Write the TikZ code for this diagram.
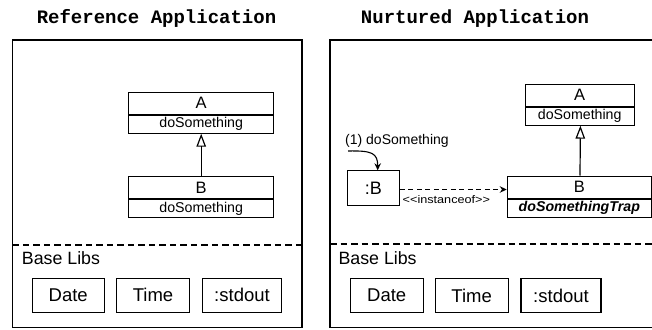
\documentclass[tikz,border=0pt]{standalone}
\usepackage{fontspec}
\setmainfont{Liberation Sans}
\newfontfamily\titlefont{Liberation Mono}
\usetikzlibrary{arrows.meta}
\begin{document}
\begin{tikzpicture}[x=1pt,y=-1pt,
  frame/.style={line width=1.3pt},
  sep/.style={line width=1.1pt, dash pattern=on 6.5pt off 4pt},
  cls/.style={draw, line width=1.1pt, inner sep=0pt, minimum height=22pt, anchor=north, font=\fontsize{16.5}{16.5}\selectfont},
  op/.style={draw, line width=1.1pt, inner sep=0pt, minimum height=18pt, anchor=north, font=\fontsize{14.2}{14.2}\selectfont},
  lib/.style={draw, line width=1.1pt, inner sep=0pt, minimum height=34pt, font=\fontsize{18.5}{18.5}\selectfont},
  libtitle/.style={anchor=base west, inner sep=0pt, font=\fontsize{17.8}{17.8}\selectfont},
  title/.style={anchor=base, inner sep=0pt, font=\titlefont\bfseries\fontsize{19}{19}\selectfont},
  inherit/.style={line width=1.2pt, -{Triangle[open, length=13pt, width=9.5pt, line width=1.2pt]}},
  small/.style={inner sep=0pt, font=\fontsize{11}{11}\selectfont}
]
\useasboundingbox (0,0) rectangle (652,329);

% titles
\node[title] (t1) at (156.5,23.3) {Reference Application};
\node[title] (t2) at (475,23.3) {Nurtured Application};

% frames
\draw[frame] (12.3,40) rectangle (302,327.5);
\draw[frame] (660,40) -- (330,40) -- (330,327.8) -- (660,327.8);

% separators
\draw[sep] (12.3,245) -- (302,245);
\draw[sep] (330,244) -- (652,244);

% ---------- left application ----------
\node[cls, minimum width=145pt] (lA) at (201.2,91.5) {A};
\node[op, minimum width=145pt] (lAo) at (lA.south) {doSomething};
\node[cls, minimum width=145pt] (lB) at (201.2,176) {B};
\node[op, minimum width=145pt] (lBo) at (lB.south) {doSomething};
\draw[inherit] (lB.north) -- (lAo.south);

\node[libtitle] (lbl) at (21.7,264.3) {Base Libs};
\node[lib, minimum width=72.3pt] (ldate) at (68.2,295.3) {Date};
\node[lib, minimum width=72.6pt] (ltime) at (153,295.3) {Time};
\node[lib, minimum width=79.4pt] (lout) at (242,295.3) {:stdout};

% ---------- right application ----------
\node[cls, minimum width=109.3pt] (rA) at (579.7,83.5) {A};
\node[op, minimum width=109.3pt] (rAo) at (rA.south) {doSomething};
\node[cls, minimum width=144pt] (rB) at (579.3,175.5) {B};
\node[op, minimum width=144pt] (rBo) at (rB.south) {\bfseries\itshape doSomethingTrap};
\draw[inherit] ([xshift=0.7pt]rB.north) -- ([xshift=0.7pt]rAo.south);

\node[draw, line width=1.1pt, inner sep=0pt, minimum width=52pt, minimum height=34.3pt,
      font=\fontsize{18}{18}\selectfont] (sb) at (373.3,188) {:B};
\coordinate (cstart) at (348,151);
\node[anchor=base west, inner sep=0pt, font=\fontsize{14}{14}\selectfont] (call) at (345,144.5) {(1) doSomething};
\draw[line width=1.1pt, -{Stealth[length=7pt, width=6.5pt]}] (cstart) .. controls (372,150.5) and (377.7,153) .. ([xshift=4.4pt]sb.north);

\draw[line width=1.1pt, dash pattern=on 5pt off 3.5pt, -{Stealth[length=7pt, width=6.5pt]}]
  ([yshift=-1.5pt]sb.east) -- ([yshift=-1.5pt]sb.east -| rB.west);
\node[small, anchor=base west, xscale=1.15] (inst) at (402.5,203) {<{}<instanceof>{}>};

\node[libtitle] (rbl) at (338.3,264) {Base Libs};
\node[lib, minimum width=73.3pt] (rdate) at (386.7,295.7) {Date};
\node[lib, minimum width=72.7pt] (rtime) at (471.7,295.7) {Time};
\node[lib, minimum width=80pt] (rout) at (561,295.7) {:stdout};
\end{tikzpicture}
\end{document}
